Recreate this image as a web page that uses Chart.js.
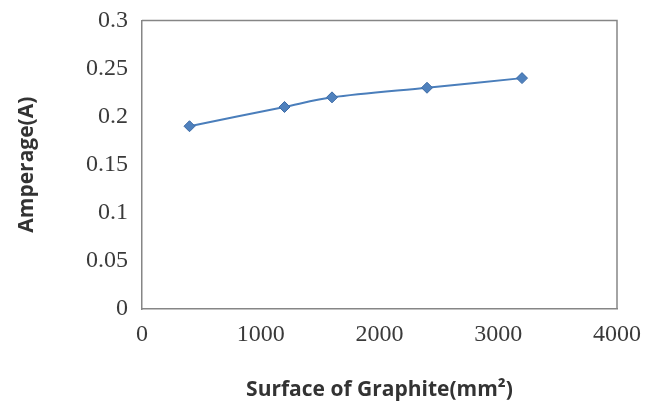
<!DOCTYPE html>
<html>
<head>
<meta charset="utf-8">
<script src="https://cdn.jsdelivr.net/npm/chart.js@4"></script>
<style>
  html, body {margin: 0; padding: 0; background: #fff;}
  #wrap {width: 646px; height: 405px;}
</style>
</head>
<body>
<div id="wrap"><canvas id="surfaceGraph" width="646" height="405"></canvas></div>
<script>
// values
const surfaceArea = [400, 1200, 1600, 2400, 3200],
      amperage = [0.19, 0.21, 0.22, 0.23, 0.24],
      xTicks = [0, 1000, 2000, 3000, 4000],
      yTicks = [0, 0.05, 0.1, 0.15, 0.2, 0.25, 0.3];

const ctx = document.getElementById('surfaceGraph').getContext('2d');

// grey frame on top and right of the plot area
const plotFrame = {
    id: 'plotFrame',
    afterDraw(chart) {
        const {ctx, chartArea: a} = chart;
        ctx.save();
        ctx.strokeStyle = '#868686';
        ctx.lineWidth = 1.5;
        ctx.beginPath();
        ctx.moveTo(a.left, a.top);
        ctx.lineTo(a.right, a.top);
        ctx.lineTo(a.right, a.bottom);
        ctx.stroke();
        ctx.restore();
    }
};

const tickFont = {family: '"Liberation Serif", "Times New Roman", serif', size: 24},
      titleFont = {family: '"Open Sans", "Noto Sans", sans-serif', size: 21, weight: 'bold'};

window.surfaceChart = new Chart(ctx, {
    type: 'scatter',
    data: {
        datasets: [{
            label: 'Amperage',
            data: surfaceArea.map((x, i) => ({x: x, y: amperage[i]})),
            showLine: true,
            tension: 0.3,
            borderColor: '#4a7ebb',
            borderWidth: 2,
            backgroundColor: '#4f81bd',
            pointBorderColor: '#3c6aa5',
            pointBorderWidth: 1,
            pointStyle: 'rectRot',
            pointRadius: 5.5
        }]
    },
    options: {
        responsive: false,
        animation: false,
        layout: {padding: {left: 0, right: 28, top: 18, bottom: 0}},
        plugins: {
            legend: {display: false},
            tooltip: {enabled: false}
        },
        scales: {
            x: {
                type: 'linear',
                min: 0,
                max: 4000,
                afterBuildTicks: s => { s.ticks = xTicks.map(v => ({value: v})); },
                afterFit: s => { s.height = 96; },
                grid: {display: false, drawOnChartArea: false, drawTicks: true, tickLength: 6, tickColor: '#868686'},
                border: {display: true, color: '#868686', width: 1.5},
                ticks: {font: tickFont, color: '#3a3a3a', padding: 5, maxRotation: 0, callback: v => String(v)},
                title: {display: true, text: 'Surface of Graphite(mm²)', font: titleFont, color: '#333', padding: {top: 0, bottom: 2}}
            },
            y: {
                min: 0,
                max: 0.3,
                afterBuildTicks: s => { s.ticks = yTicks.map(v => ({value: v})); },
                afterFit: s => { s.width = 142; },
                grid: {display: false, drawOnChartArea: false, drawTicks: true, tickLength: 8, tickColor: '#868686'},
                border: {display: true, color: '#868686', width: 1.5},
                ticks: {font: tickFont, color: '#3a3a3a', padding: 6, callback: v => String(+v.toFixed(2))},
                title: {display: true, text: 'Amperage(A)', font: titleFont, color: '#333', padding: {top: 14, bottom: 0}}
            }
        }
    },
    plugins: [plotFrame]
});
</script>
</body>
</html>
